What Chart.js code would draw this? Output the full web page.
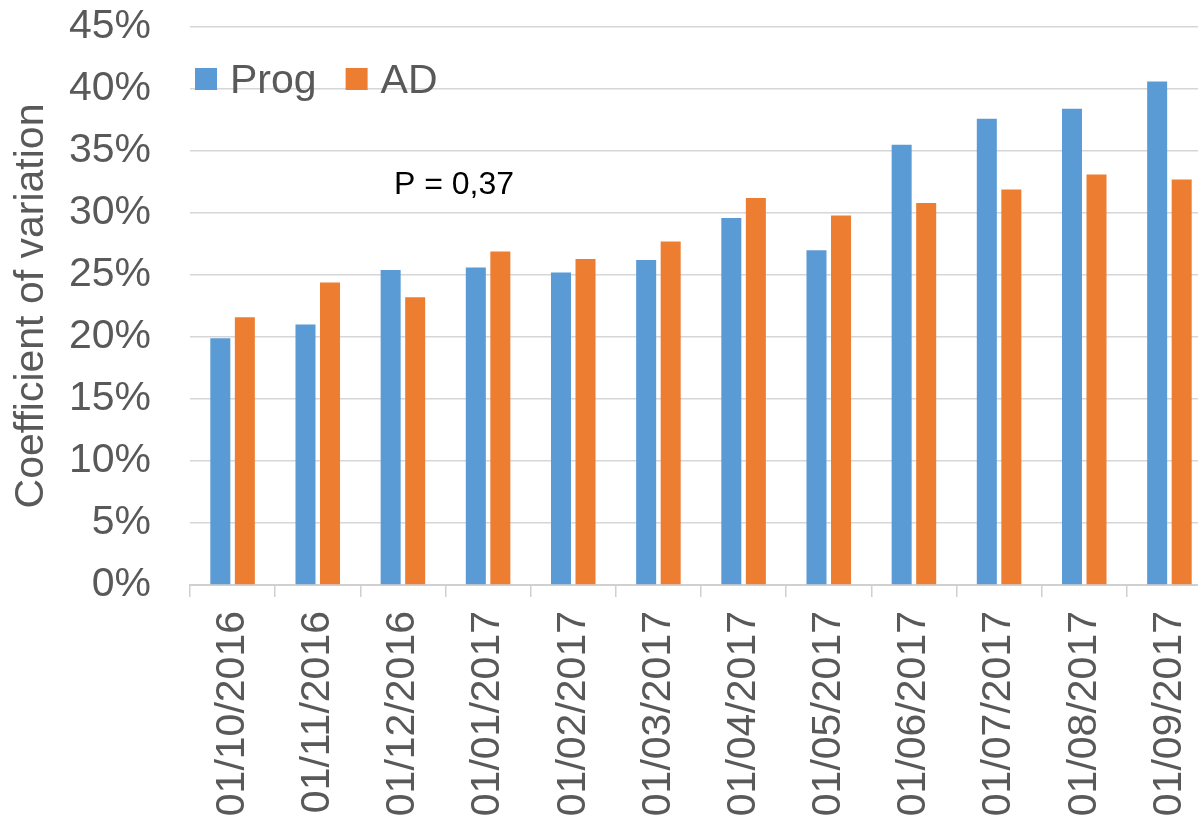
<!DOCTYPE html>
<html><head><meta charset="utf-8">
<script src="https://cdn.jsdelivr.net/npm/chart.js@4/dist/chart.umd.min.js"></script>
<style>
html,body{margin:0;padding:0;background:#fff;overflow:hidden;width:1198px;height:826px}
canvas{display:block}
</style></head>
<body>
<canvas id="c" width="1212" height="826"></canvas>
<script>
const categories = ["01/10/2016","01/11/2016","01/12/2016","01/01/2017","01/02/2017","01/03/2017","01/04/2017","01/05/2017","01/06/2017","01/07/2017","01/08/2017","01/09/2017"];
const progValues = [19.9, 21.0, 25.4, 25.6, 25.2, 26.2, 29.6, 27.0, 35.5, 37.6, 38.4, 40.6];
const adValues   = [21.6, 24.4, 23.2, 26.9, 26.3, 27.7, 31.2, 29.8, 30.8, 31.9, 33.1, 32.7];
const seriesNames = ["Prog", "AD"];
const pValueText = "P = 0,37";

const FONT = '"Liberation Sans", Arial, sans-serif';
const GREY = '#595959';

const legendPlugin = {
  id: 'customLegend',
  afterDraw(chart) {
    const ctx = chart.ctx;
    const ca = chart.chartArea;
    ctx.save();
    ctx.font = '41px ' + FONT;
    ctx.textBaseline = 'alphabetic';
    let x = ca.left + 5;
    const boxTop = 68, box = 22, baseY = 93;
    chart.data.datasets.forEach(ds => {
      ctx.fillStyle = ds.backgroundColor;
      ctx.fillRect(x, boxTop, box, box);
      x += box + 13;
      ctx.fillStyle = GREY;
      ctx.fillText(ds.label, x, baseY);
      x += ctx.measureText(ds.label).width + 29;
    });
    // P value annotation
    ctx.font = '32px ' + FONT;
    ctx.fillStyle = '#000';
    ctx.fillText(pValueText, ca.left + 204, chart.scales.y.getPixelForValue(31.5));
    ctx.restore();
  }
};

new Chart(document.getElementById('c'), {
  type: 'bar',
  data: {
    labels: categories,
    datasets: [
      { label: seriesNames[0], data: progValues, backgroundColor: '#5B9BD5', categoryPercentage: 0.576, barPercentage: 0.816 },
      { label: seriesNames[1], data: adValues, backgroundColor: '#ED7D31', categoryPercentage: 0.576, barPercentage: 0.816 }
    ]
  },
  options: {
    responsive: false,
    animation: false,
    layout: { padding: 0 },
    plugins: { legend: { display: false }, tooltip: { enabled: false } },
    scales: {
      x: {
        afterFit(scale) { scale.height = 241; scale.paddingLeft = 0; scale.paddingRight = 0; },
        grid: { display: true, drawOnChartArea: false, drawTicks: true, tickLength: 12, offset: true, color: '#d0d0d0', lineWidth: 1.5 },
        border: { display: true, color: '#d0d0d0', width: 2 },
        ticks: { autoSkip: false, maxRotation: 90, minRotation: 90, padding: 14, color: GREY, font: { family: FONT, size: 41 } }
      },
      y: {
        min: 0, max: 45,
        afterFit(scale) { scale.width = 190; scale.paddingTop = 27; scale.paddingBottom = 0; },
        grid: { color: '#d6d6d6', lineWidth: 1.6, drawTicks: false },
        border: { display: false },
        ticks: { stepSize: 5, padding: 39, color: GREY, font: { family: FONT, size: 41 }, callback: v => v + '%' },
        title: { display: true, text: 'Coefficient of variation', color: GREY, font: { family: FONT, size: 41 }, padding: { top: 7, bottom: 0 } }
      }
    }
  },
  plugins: [legendPlugin]
});
</script>
</body></html>
